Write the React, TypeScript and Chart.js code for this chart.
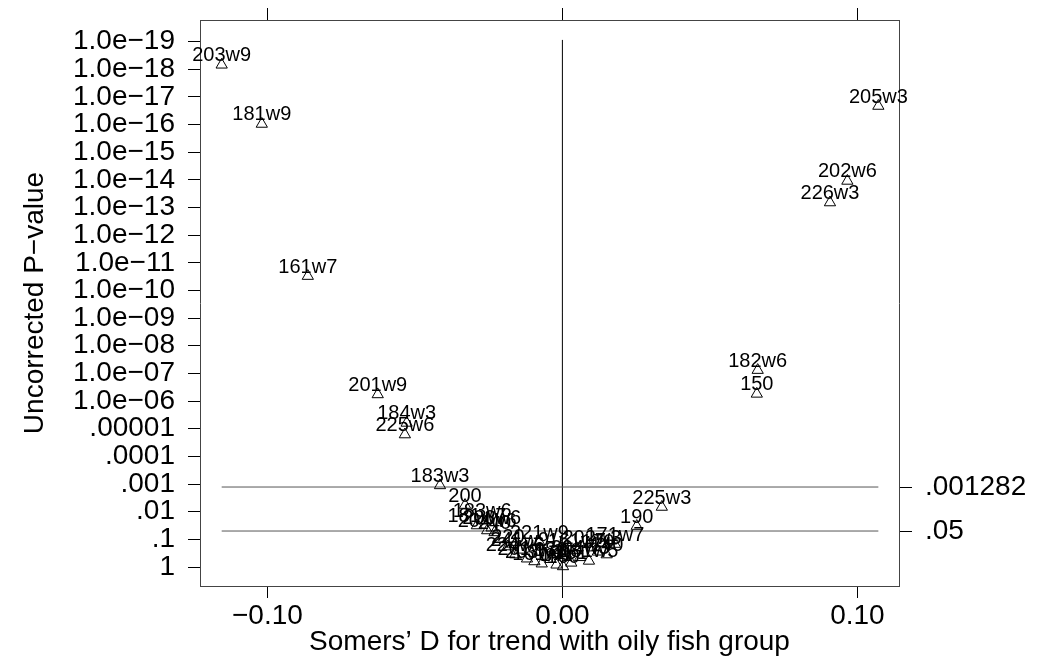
import { useEffect, useRef } from "react";
import { Chart, registerables } from "chart.js";
Chart.register(...registerables);

const FONT = "'Liberation Sans', Arial, Helvetica, sans-serif";

// point labels, Somers' D (x) and -log10(P) (y)
const pointLabels = [
  "203w9", "181w9", "161w7", "201w9", "184w3", "225w6", "183w3", "200",
  "205w3", "202w6", "226w3", "182w6", "150", "225w3", "190",
  "181w7", "183w6", "204w6", "203w6", "240", "220", "221w9", "241w9",
  "224w6", "201w7", "203w3", "161w9", "180", "141", "160", "151",
  "204w3", "181w5", "170", "140", "171w7", "202w3", "161w5",
];
const somersD = [
  -0.1155, -0.1019, -0.0863, -0.0626, -0.0528, -0.0534, -0.0415, -0.0330,
  0.1071, 0.0966, 0.0907, 0.0662, 0.0659, 0.0337, 0.0252,
  -0.0290, -0.0272, -0.0255, -0.0240, -0.0230, -0.0185, -0.0078, -0.0145,
  -0.0160, -0.0120, -0.0095, -0.0070, -0.0040, -0.0020, 0.0002, 0.0030,
  0.0060, 0.0090, 0.0120, 0.0150, 0.0178, 0.0100, 0.0050,
];
const negLogP = [
  18.16, 16.02, 10.52, 6.24, 5.21, 4.79, 2.95, 2.24,
  16.67, 13.96, 13.18, 7.12, 6.26, 2.17, 1.48,
  1.50, 1.68, 1.32, 1.42, 1.25, 0.74, 0.90, 0.62,
  0.45, 0.30, 0.20, 0.12, 0.28, 0.08, 0.02, 0.15,
  0.35, 0.22, 0.55, 0.45, 0.83, 0.70, 0.60,
];

const yTickValues = [0, 1, 2, 3, 4, 5, 6, 7, 8, 9, 10, 11, 12, 13, 14, 15, 16, 17, 18, 19];
const yTickLabels = [
  "1", ".1", ".01", ".001", ".0001", ".00001", "1.0e\u221206", "1.0e\u221207",
  "1.0e\u221208", "1.0e\u221209", "1.0e\u221210", "1.0e\u221211", "1.0e\u221212",
  "1.0e\u221213", "1.0e\u221214", "1.0e\u221215", "1.0e\u221216", "1.0e\u221217",
  "1.0e\u221218", "1.0e\u221219",
];
const xTickValues = [-0.1, 0, 0.1];
const xTickLabels = ["\u22120.10", "0.00", "0.10"];
const refPValues = [2.892, 1.301];
const refPLabels = [".001282", ".05"];
const refLineX = [-0.1155, 0.1071];
const zeroLineY = [-0.69, 19.06];

const X_MIN = -0.12285;
const X_MAX = 0.1141;
const Y_MIN = -0.687;
const Y_MAX = 19.78;

const labelPlugin = {
  id: "pointLabels",
  afterDatasetsDraw(chart: any) {
    const meta = chart.getDatasetMeta(0);
    const ctx = chart.ctx;
    ctx.save();
    ctx.font = `20px ${FONT}`;
    ctx.fillStyle = "#000";
    ctx.textAlign = "center";
    ctx.textBaseline = "middle";
    meta.data.forEach((el: any, i: number) => {
      ctx.fillText(pointLabels[i], el.x, el.y - 9);
    });
    ctx.restore();
  },
};

const fitTo = (prop: "width" | "height", size: number) => (s: any) => {
  s[prop] = size;
  s.paddingTop = 0;
  s.paddingBottom = 0;
  s.paddingLeft = 0;
  s.paddingRight = 0;
};

export default function App() {
  const ref = useRef<HTMLCanvasElement | null>(null);
  useEffect(() => {
    if (!ref.current) return;
    const tickFont = { family: FONT, size: 28 };
    const chart = new Chart(ref.current, {
      type: "scatter",
      data: {
        datasets: [
          {
            data: somersD.map((x, i) => ({ x, y: negLogP[i] })),
            pointStyle: "triangle",
            pointRadius: 6.5,
            borderColor: "#000",
            backgroundColor: "rgba(0,0,0,0)",
            borderWidth: 1,
            showLine: false,
            xAxisID: "x",
            yAxisID: "y",
          },
          ...refPValues.map((p) => ({
            data: refLineX.map((x) => ({ x, y: p })),
            showLine: true,
            borderColor: "#555",
            borderWidth: 1,
            pointRadius: 0,
            xAxisID: "x",
            yAxisID: "y",
          })),
          {
            data: zeroLineY.map((y) => ({ x: 0, y })),
            showLine: true,
            borderColor: "#000",
            borderWidth: 1,
            pointRadius: 0,
            xAxisID: "x",
            yAxisID: "y",
          },
        ] as any,
      },
      options: {
        animation: false,
        responsive: false,
        layout: { padding: 0 },
        plugins: { legend: { display: false }, tooltip: { enabled: false } },
        scales: {
          x: {
            type: "linear",
            position: "bottom",
            min: X_MIN,
            max: X_MAX,
            afterFit: fitTo("height", 70),
            afterBuildTicks: (s: any) => { s.ticks = xTickValues.map((v) => ({ value: v })); },
            ticks: {
              callback: (_v: any, i: number) => xTickLabels[i],
              font: tickFont, color: "#000", padding: 1, maxRotation: 0, autoSkip: false,
            },
            grid: { display: true, drawOnChartArea: false, drawTicks: true, tickLength: 12, tickColor: "#000", tickWidth: 1 },
            border: { display: true, color: "#444", width: 1 },
            title: {
              display: true,
              text: "Somers\u2019 D for trend with oily fish group",
              font: { family: FONT, size: 28, lineHeight: 1 },
              color: "#000",
              padding: { top: 0, bottom: 0 },
            },
          },
          x2: {
            type: "linear",
            position: "top",
            min: X_MIN,
            max: X_MAX,
            afterFit: fitTo("height", 20),
            afterBuildTicks: (s: any) => { s.ticks = xTickValues.map((v) => ({ value: v })); },
            ticks: { callback: () => "", font: { family: FONT, size: 10 }, padding: 0, autoSkip: false, maxRotation: 0 },
            grid: { display: true, drawOnChartArea: false, drawTicks: true, tickLength: 12, tickColor: "#000", tickWidth: 1 },
            border: { display: true, color: "#444", width: 1 },
          },
          y: {
            type: "linear",
            position: "left",
            min: Y_MIN,
            max: Y_MAX,
            afterFit: fitTo("width", 200),
            afterBuildTicks: (s: any) => { s.ticks = yTickValues.map((v) => ({ value: v })); },
            ticks: {
              callback: (_v: any, i: number) => yTickLabels[i],
              font: tickFont, color: "#000", padding: 13, autoSkip: false,
            },
            grid: { display: true, drawOnChartArea: false, drawTicks: true, tickLength: 12, tickColor: "#000", tickWidth: 1 },
            border: { display: true, color: "#444", width: 1 },
            title: {
              display: true,
              text: "Uncorrected P\u2212value",
              font: { family: FONT, size: 28, lineHeight: 1 },
              color: "#000",
              padding: { top: 21, bottom: 0 },
            },
          },
          y2: {
            type: "linear",
            position: "right",
            min: Y_MIN,
            max: Y_MAX,
            afterFit: fitTo("width", 147),
            afterBuildTicks: (s: any) => { s.ticks = refPValues.map((v) => ({ value: v })); },
            ticks: {
              callback: (_v: any, i: number) => refPLabels[i],
              font: tickFont, color: "#000", padding: 13, autoSkip: false,
            },
            grid: { display: true, drawOnChartArea: false, drawTicks: true, tickLength: 13, tickColor: "#000", tickWidth: 1 },
            border: { display: true, color: "#444", width: 1 },
          },
        },
      } as any,
      plugins: [labelPlugin],
    });
    return () => chart.destroy();
  }, []);
  return (
    <div style={{ position: "fixed", left: 0, top: 0, width: 1046, height: 656, background: "#fff" }}>
      <canvas ref={ref} width={1046} height={656} />
    </div>
  );
}
